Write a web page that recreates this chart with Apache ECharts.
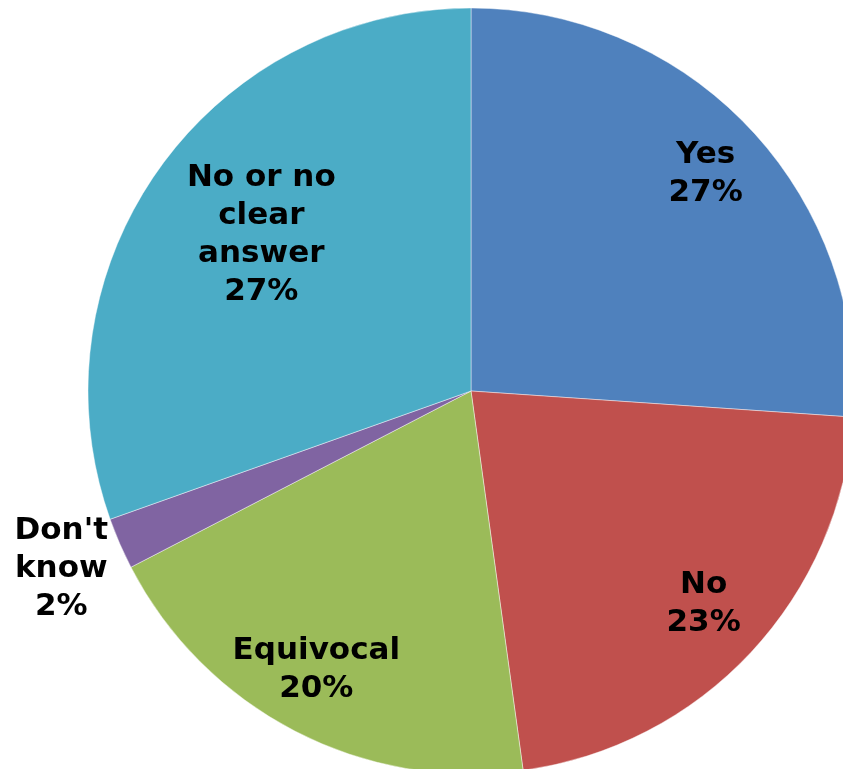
<!DOCTYPE html>
<html>
<head>
<meta charset="utf-8">
<script src="https://cdn.jsdelivr.net/npm/echarts@6/dist/echarts.min.js"></script>
<style>
  html, body { margin: 0; padding: 0; background: #fff; }
  #chart { width: 843px; height: 769px; }
</style>
</head>
<body>
<div id="chart"></div>
<script>
// slice order follows the picture, clockwise from 12 o'clock
const categories = ["Yes", "No", "Equivocal", "Don't know", "No or no clear answer"];
const counts = [12, 10, 9, 1, 14];
const labelPercents = ["27%", "23%", "20%", "2%", "27%"];
const labelNames = ["Yes", "No", "Equivocal", "Don't\nknow", "No or no\nclear\nanswer"];
// which label ring each label sits on
const labelRing = ["outer", "outer", "outer", "outside", "inner"];
const colors = ["#4F81BD", "#C0504D", "#9BBB59", "#8064A2", "#4BACC6"];

const center = [471, 391];
const R = 383;
// small nudges so labels sit where Excel put them
const labelNudge = [[0, 2], [-2, -6], [-7, -6], [3, -1], [6, -4]];

const labelStyle = {
  color: "#000",
  fontFamily: "DejaVu Sans",
  fontWeight: "bold",
  fontSize: 31,
  lineHeight: 38,
  align: "center",
};

function labelSeries(ring, radius) {
  return {
    type: "pie",
    center: center,
    radius: radius,
    silent: true,
    animation: false,
    itemStyle: { color: "rgba(0,0,0,0)" },
    labelLine: { show: false },
    data: categories.map((name, i) => ({
      name: name,
      value: counts[i],
      label: {
        show: labelRing[i] === ring,
        position: "inside",
        offset: labelNudge[i],
        formatter: labelNames[i] + "\n" + labelPercents[i],
        ...labelStyle,
      },
    })),
  };
}

const chart = echarts.init(document.getElementById("chart"));
chart.setOption({
  color: colors,
  animation: false,
  series: [
    {
      type: "pie",
      center: center,
      radius: [0, R],
      label: { show: false },
      labelLine: { show: false },
      itemStyle: { borderColor: "rgba(255,255,255,0.55)", borderWidth: 0.8 },
      data: categories.map((name, i) => ({ name: name, value: counts[i] })),
    },
    labelSeries("outer", [253, R]),
    labelSeries("inner", [139, R]),
    labelSeries("outside", [430, 464]),
  ],
});
</script>
</body>
</html>
